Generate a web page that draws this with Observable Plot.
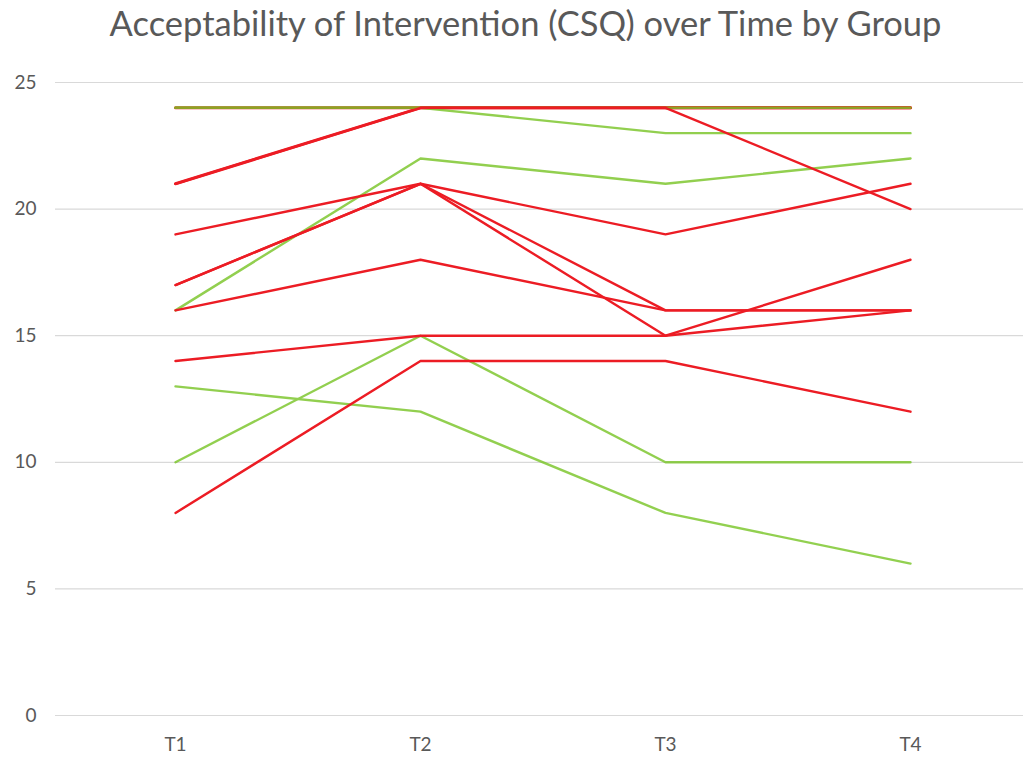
<!DOCTYPE html>
<html>
<head>
<meta charset="utf-8">
<script src="https://cdn.jsdelivr.net/npm/d3@7"></script>
<script src="https://cdn.jsdelivr.net/npm/@observablehq/plot@0.6"></script>
<style>
  html, body { margin: 0; padding: 0; background: #fff; }
  #wrap { width: 1023px; height: 761px; overflow: hidden; }
  #title {
    height: 55px;
    box-sizing: border-box;
    padding: 6px 0 0 28px;
    font-family: Lato, "Open Sans", sans-serif;
    font-size: 34.5px;
    line-height: 1;
    color: #595959;
    text-align: center;
    white-space: nowrap;
  }
</style>
</head>
<body>
<div id="wrap">
  <div id="title">Acceptability of Intervention (CSQ) over Time by Group</div>
  <div id="chart"></div>
</div>
<script>
// Measurement occasions
const times = ["T1", "T2", "T3", "T4"];
const yTicks = [0, 5, 10, 15, 20, 25];

// CSQ scores per participant, group A (green)
const groupA = [
  [24, 24, 24, 24],
  [24, 24, 23, 23],
  [16, 22, 21, 22],
  [13, 12, 8, 6],
  [10, 15, 10, 10]
];

// CSQ scores per participant, group B (red)
const groupB = [
  [24, 24, 24, 24],
  [21, 24, 24, 24],
  [21, 24, 24, 20],
  [19, 21, 19, 21],
  [17, 21, 16, 16],
  [17, 21, 15, 18],
  [16, 18, 16, 16],
  [14, 15, 15, 16],
  [8, 14, 14, 12]
];

// Group B series that sit at the ceiling score with group A are drawn beneath it
const beneathCount = 2;

const colorA = "#77c424";
const colorB = "#ec1c24";

function toRows(series, group) {
  return series.flatMap((vals, i) =>
    vals.map((v, j) => ({id: group + (i + 1), group, idx: i, time: times[j], value: v}))
  );
}
const rowsA = toRows(groupA, "A");
const rowsB = toRows(groupB, "B");
const rowsBUnder = rowsB.filter(d => d.idx < beneathCount);
const rowsBOver = rowsB.filter(d => d.idx >= beneathCount);

const lineOpts = {x: "time", y: "value", z: "id", strokeWidth: 2.4, curve: "linear"};

const chart = Plot.plot({
  width: 1023,
  height: 706,
  marginTop: 27,
  marginBottom: 46,
  marginLeft: 55,
  marginRight: 0,
  style: {fontFamily: "Lato, 'Open Sans', sans-serif", fontSize: "19px", color: "#595959", background: "#fff"},
  x: {type: "point", domain: times, range: [174, 910], padding: 0},
  y: {domain: [0, 25], ticks: yTicks},
  marks: [
    Plot.gridY(yTicks, {stroke: "#d9d9d9", strokeOpacity: 1, strokeWidth: 1.2}),
    Plot.line(rowsBUnder, {...lineOpts, stroke: colorB, strokeWidth: 3}),
    Plot.line(rowsA, {...lineOpts, stroke: colorA}),
    Plot.line(rowsBOver, {...lineOpts, stroke: colorB}),
    Plot.axisY({ticks: yTicks, tickSize: 0, tickPadding: 19, label: null, fill: "#595959", fontSize: 19}),
    Plot.axisX({tickSize: 0, tickPadding: 22, label: null, fill: "#595959", fontSize: 19})
  ]
});

// group A lines share one translucent layer so overlaps blend like the original artwork
chart.querySelectorAll(`g[stroke="${colorA}"]`).forEach(g => g.setAttribute("opacity", 0.8));

document.getElementById("chart").appendChild(chart);
</script>
</body>
</html>
